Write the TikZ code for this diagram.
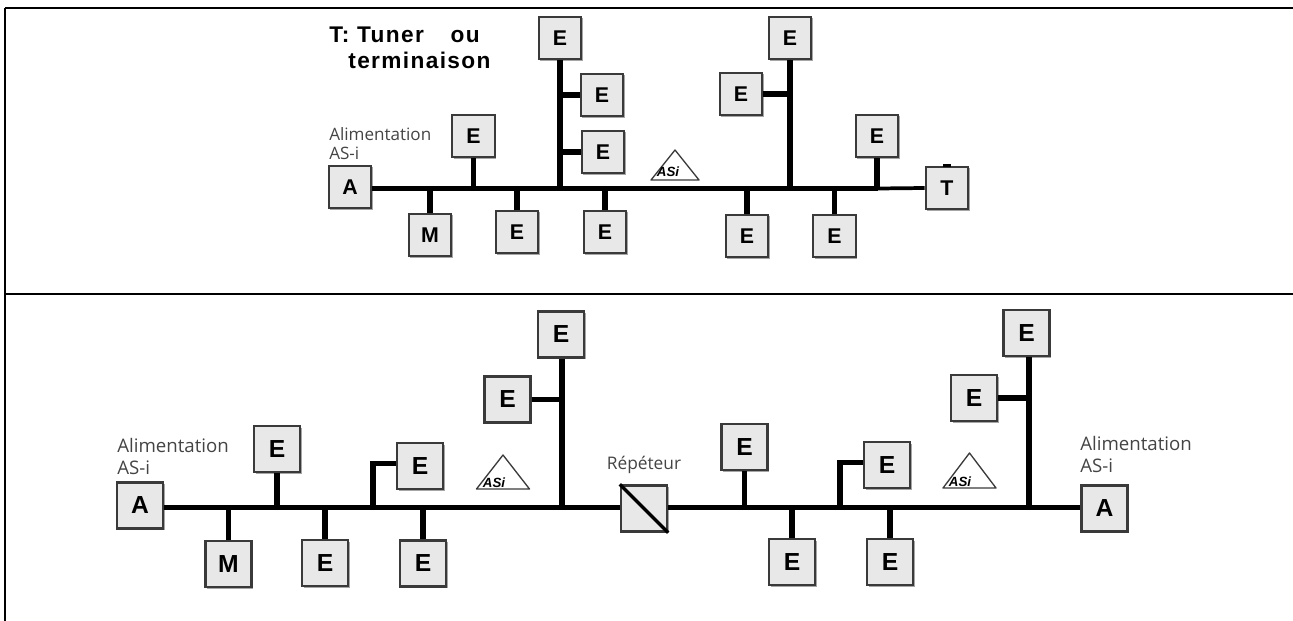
\documentclass[tikz,border=0pt]{standalone}
\usepackage{xcolor}
\usepackage{fontspec}
\setmainfont{Liberation Sans}
\newfontfamily\labelfont{Open Sans}
\usetikzlibrary{positioning, calc, shadows}
\definecolor{devfill}{HTML}{E8E8E8}
\definecolor{devline}{HTML}{3A3A3A}
\definecolor{labelc}{HTML}{444444}
% apex, half width, height
\newcommand{\asilogo}[3]{%
  \draw[logoline] (#1) -- ++(#2,#3) -- ++(-2*#2,0) -- cycle;}

\begin{document}
\begin{tikzpicture}[
  x=0.75pt, y=-0.75pt,
  font=\bfseries,
  dev/.style={draw=devline, line width=1.7pt, fill=devfill, minimum size=32pt, inner sep=0pt,
              font=\bfseries\fontsize{16}{18}\selectfont, text=black,
              drop shadow={shadow xshift=1.2pt, shadow yshift=-1.2pt, opacity=0.35, fill=black}},
  bigdev/.style={dev, minimum size=34.5pt, font=\bfseries\fontsize{18.5}{20}\selectfont},
  bus/.style={line width=3.8pt, draw=black},
  bigbus/.style={line width=4.4pt, draw=black},
  thinbus/.style={line width=2.8pt, draw=black},
  frameline/.style={line width=2pt, draw=black},
  supply/.style={font=\labelfont\fontsize{12.8}{14.2}\selectfont, text=labelc, align=left, anchor=south west, inner sep=0pt},
  bigsupply/.style={supply, font=\labelfont\fontsize{14}{16.5}\selectfont},
  logoline/.style={draw=devline, line width=1pt, line join=round},
  logotext/.style={font=\bfseries\itshape\fontsize{10}{10}\selectfont, text=black, inner sep=0pt},
]
\useasboundingbox (0,0) rectangle (1293,621);

% ---------------- table lines ----------------
\coordinate (frameTL) at (5,8);
\coordinate (frameTR) at (1293,8);
\coordinate (frameML) at (5,294);
\coordinate (frameMR) at (1293,294);
\coordinate (frameBL) at (5,621);
\draw[frameline] (frameTL) -- (frameTR);
\draw[frameline] (frameML) -- (frameMR);
\draw[frameline] (frameTL) -- (frameBL);

% ---------------- top network ----------------
\node[font=\bfseries\fontsize{17}{19.5}\selectfont\addfontfeatures{LetterSpace=6}, align=left, anchor=north west, inner sep=0pt] (legend) at (329,27)
  {T: Tuner\ \ \ \,ou\\\ \ \,terminaison};

\node[dev] (topA) at (350,187) {A};
\node[supply] (topsupply) at (329,160) {Alimentation\\AS-i};
\node[dev] (topM) at (430,235) {M};
\node[dev] (topE1) at (473.5,136) {E};
\node[dev] (topE2) at (517,232) {E};
\node[dev] (topE3) at (560,38) {E};
\node[dev] (topE4) at (602,95) {E};
\node[dev] (topE5) at (603,152) {E};
\node[dev] (topE6) at (605,232) {E};
\node[dev] (topE7) at (747,236) {E};
\node[dev] (topE8) at (790,38) {E};
\node[dev] (topE9) at (741,94) {E};
\node[dev] (topE10) at (834.5,236) {E};
\node[dev] (topE11) at (877,136) {E};
\node[dev] (topT) at (947,188) {T};
\coordinate (toplogo) at (675,150);
\asilogo{toplogo}{24}{30}
\node[logotext] (toplogotext) at (668,172) {ASi};

\coordinate (topjoin) at (878,188.5);
\draw[bus] (topA.east |- topjoin) -- (topjoin);
\draw[thinbus] (topjoin) -- (topT.west);
\draw[thinbus] (topT.north) ++(-4,0) -- ++(8,0);
\draw[bus] (topM.north) -- (topM.north |- topjoin);
\draw[bus] (topE1.south) -- (topE1.south |- topjoin);
\draw[bus] (topE2.north) -- (topE2.north |- topjoin);
\draw[bus] (topE3.south) -- (topE3.south |- topjoin);
\draw[bus] (topE4.west) -- (topE4.west -| topE3.south);
\draw[bus] (topE5.west) -- (topE5.west -| topE3.south);
\draw[bus] (topE6.north) -- (topE6.north |- topjoin);
\draw[bus] (topE7.north) -- (topE7.north |- topjoin);
\draw[bus] (topE8.south) -- (topE8.south |- topjoin);
\draw[bus] (topE9.east) -- (topE9.east -| topE8.south);
\draw[bus] (topE10.north) -- (topE10.north |- topjoin);
\draw[bus] (topE11.south) -- (topE11.south |- topjoin);

% ---------------- bottom network ----------------
\node[bigdev] (botA) at (140,505.5) {A};
\node[bigsupply] (botsupply) at (117,475) {Alimentation\\AS-i};
\node[bigdev] (botM) at (228.5,564) {M};
\node[bigdev] (botE1) at (277,449) {E};
\node[bigdev] (botE2) at (325,563) {E};
\node[bigdev] (botE3) at (420,466) {E};
\node[bigdev] (botE4) at (423,563.5) {E};
\node[bigdev] (botE5) at (561,334.5) {E};
\node[bigdev] (botE6) at (507.5,399.5) {E};
\coordinate (botlogo1) at (503,455);
\asilogo{botlogo1}{26.5}{34}
\node[logotext] (botlogotext1) at (494,483) {ASi};

\node[bigdev] (rep) at (644,508.5) {};
\draw[line width=2.4pt] (rep.north west) -- (rep.south east);
\node[font=\labelfont\fontsize{13}{15}\selectfont, text=labelc, above=8pt of rep, inner sep=0pt] (replabel) {Répéteur};

\node[bigdev] (botE7) at (744.5,447) {E};
\node[bigdev] (botE8) at (792,562) {E};
\node[bigdev] (botE9) at (887,465) {E};
\node[bigdev] (botE10) at (890,562) {E};
\node[bigdev] (botE11) at (1026.5,333) {E};
\node[bigdev] (botE12) at (974,398) {E};
\node[bigdev] (botA2) at (1104.5,508.5) {A};
\node[bigsupply] (botsupply2) at (1080,473) {Alimentation\\AS-i};
\coordinate (botlogo2) at (969.5,453);
\asilogo{botlogo2}{26.5}{35}
\node[logotext] (botlogotext2) at (960,482) {ASi};

\coordinate (botbus) at (644,507.5);
\coordinate (botE5tap) at ([xshift=0.8pt]botE5.south);
\coordinate (botE11tap) at ([xshift=1.9pt]botE11.south);
\draw[bigbus] (botA.east |- botbus) -- (rep.west |- botbus);
\draw[bigbus] (rep.east |- botbus) -- (botA2.west |- botbus);
\draw[bigbus] (botM.north) -- (botM.north |- botbus);
\draw[bigbus] (botE1.south) -- (botE1.south |- botbus);
\draw[bigbus] (botE2.north) -- (botE2.north |- botbus);
\coordinate (botbranch1) at (373,507.5);
\draw[bus] (botbranch1) |- ([yshift=2.2pt]botE3.west);
\draw[bigbus] (botE4.north) -- (botE4.north |- botbus);
\draw[bigbus] (botE5tap) -- (botE5tap |- botbus);
\draw[bigbus] (botE6.east) -- (botE6.east -| botE5tap);
\draw[bigbus] (botE7.south) -- (botE7.south |- botbus);
\draw[bigbus] (botE8.north) -- (botE8.north |- botbus);
\coordinate (botbranch2) at (840,507.5);
\draw[bus] (botbranch2) |- ([yshift=2.2pt]botE9.west);
\draw[bigbus] (botE10.north) -- (botE10.north |- botbus);
\draw[bigbus] (botE11tap) -- (botE11tap |- botbus);
\draw[bigbus] (botE12.east) -- (botE12.east -| botE11tap);

\end{tikzpicture}
\end{document}
